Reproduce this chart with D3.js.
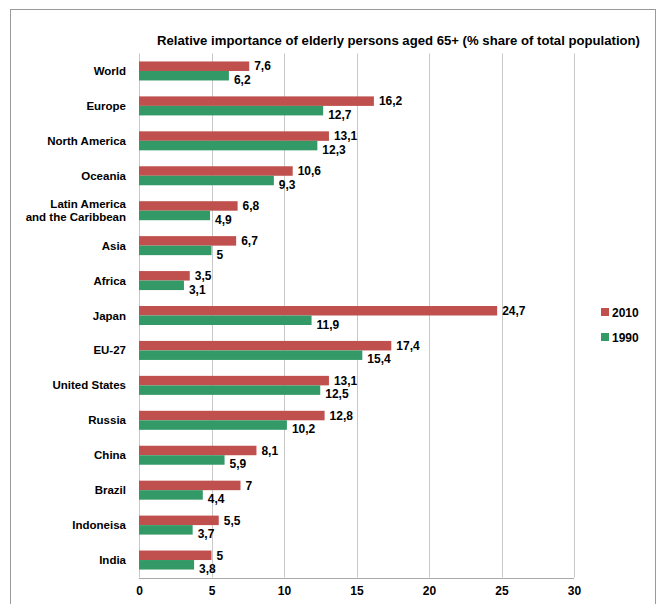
<!DOCTYPE html>
<html><head><meta charset="utf-8">
<script src="https://cdn.jsdelivr.net/npm/d3@7"></script>
<style>body{margin:0;background:#fff}svg{display:block}text{font-family:"Liberation Sans",Arial,sans-serif;font-weight:bold;fill:#000}</style>
</head><body>
<svg id="c" width="662" height="604"></svg>
<script>
const categories = ["World","Europe","North America","Oceania","Latin America\nand the Caribbean","Asia","Africa","Japan","EU-27","United States","Russia","China","Brazil","Indoneisa","India"];
const values2010 = [7.6,16.2,13.1,10.6,6.8,6.7,3.5,24.7,17.4,13.1,12.8,8.1,7,5.5,5];
const values1990 = [6.2,12.7,12.3,9.3,4.9,5,3.1,11.9,15.4,12.5,10.2,5.9,4.4,3.7,3.8];
const xTicks = [0,5,10,15,20,25,30];
const seriesNames = ["2010","1990"];
const colors = ["#C0504D","#339966"];

const svg = d3.select("#c");
const L=139, R=574, T=53.5, B=577.5;
svg.append("rect").attr("x",10.5).attr("y",9.5).attr("width",645).attr("height",610)
  .attr("fill","none").attr("stroke","#9a9a9a").attr("stroke-width",1);

const x = d3.scaleLinear().domain([0,30]).range([L,R]);
const y = d3.scaleBand().domain(d3.range(categories.length)).range([T,B]);
const bh = 9.5;

// gridlines
svg.append("g").selectAll("line").data(xTicks).join("line")
  .attr("x1",d=>Math.round(x(d))+0.5).attr("x2",d=>Math.round(x(d))+0.5)
  .attr("y1",T).attr("y2",B).attr("stroke","#c8c8c8").attr("stroke-width",1);
svg.append("line").attr("x1",L).attr("x2",R).attr("y1",Math.round(B)+0.5).attr("y2",Math.round(B)+0.5)
  .attr("stroke","#a8a8a8");

// x axis labels
const xa = d3.axisBottom(x).tickValues(xTicks).tickSize(0).tickPadding(0);
const gx = svg.append("g").attr("transform",`translate(0,${B+9})`).call(xa);
gx.select(".domain").remove();
gx.selectAll("text").style("font-size","12px").style("font-family","Liberation Sans, Arial, sans-serif").style("font-weight","bold").attr("fill","#000");

// title
svg.append("text").attr("x",157).attr("y",45).attr("font-size",12.5)
  .attr("textLength",483).attr("lengthAdjust","spacingAndGlyphs")
  .text("Relative importance of elderly persons aged 65+ (% share of total population)");

// categories
const cat = svg.append("g");
categories.forEach((c,i)=>{
  const lines=c.split("\n");
  const cy=y(i)+y.bandwidth()/2;
  lines.forEach((ln,j)=>{
    cat.append("text").attr("x",126).attr("y",cy+4+(j-(lines.length-1)/2)*13)
      .attr("text-anchor","end").attr("font-size",11.5).text(ln);
  });
});

const fmt = v=>String(v).replace(".",",");
// bars
[values2010,values1990].forEach((vals,s)=>{
  const g=svg.append("g");
  g.selectAll("rect").data(vals).join("rect")
    .attr("x",x(0)).attr("y",(d,i)=>y(i)+y.bandwidth()/2-bh+s*bh)
    .attr("width",d=>x(d)-x(0)).attr("height",bh).attr("fill",colors[s]);
  g.selectAll("text").data(vals).join("text")
    .attr("x",d=>x(d)+5)
    .attr("y",(d,i)=>y(i)+y.bandwidth()/2+(s===0?-0.5:13))
    .attr("font-size",12).text(fmt);
});

// legend
seriesNames.forEach((n,i)=>{
  const ly=312+i*25;
  svg.append("rect").attr("x",601).attr("y",ly-4).attr("width",8).attr("height",8).attr("fill",colors[i]);
  svg.append("text").attr("x",612).attr("y",ly+4.5).attr("font-size",12).text(n);
});
</script>
</body></html>
